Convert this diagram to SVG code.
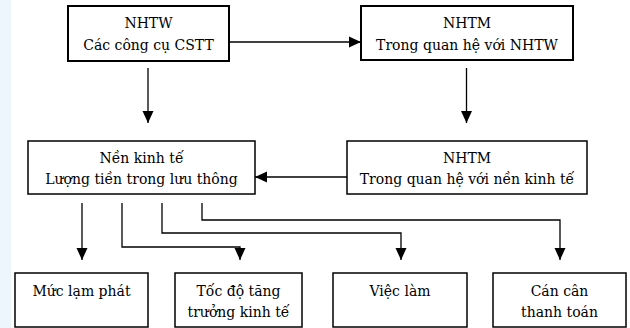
<svg xmlns="http://www.w3.org/2000/svg" width="630" height="328" viewBox="0 0 630 328">
<style>
.box{fill:#fff;stroke:#000;stroke-width:1.5}
.thick{stroke-width:2}
.t{font-family:"DejaVu Serif",serif;font-size:14px;fill:#000;text-anchor:middle}
.c{fill:none;stroke:#000;stroke-width:1.3}
</style>
<defs>
<marker id="ah" markerWidth="12" markerHeight="12" refX="12" refY="6" orient="auto" markerUnits="userSpaceOnUse">
<path d="M0,0.5 L12,6 L0,11.5 Z" fill="#000"/>
</marker>
</defs>
<rect x="0" y="0" width="630" height="328" fill="#fff"/>
<rect x="0" y="0" width="11" height="328" fill="#eef6fd"/>
<g id="nhtw">
<rect class="box thick" x="68" y="6" width="161" height="55"/>
<text class="t" x="148.5" y="28">NHTW</text>
<text class="t" x="148.5" y="50">Các công cụ CSTT</text>
</g>
<g id="nhtm1">
<rect class="box thick" x="361" y="6" width="212" height="54"/>
<text class="t" x="467" y="28">NHTM</text>
<text class="t" x="467" y="50">Trong quan hệ với NHTW</text>
</g>
<g id="nenkinhte">
<rect class="box" x="28" y="141" width="227" height="53"/>
<text class="t" x="141.5" y="163">Nền kinh tế</text>
<text class="t" x="141.5" y="184">Lượng tiền trong lưu thông</text>
</g>
<g id="nhtm2">
<rect class="box" x="347" y="141" width="240" height="53"/>
<text class="t" x="467" y="163">NHTM</text>
<text class="t" x="467" y="184">Trong quan hệ với nền kinh tế</text>
</g>
<g id="lamphat">
<rect class="box" x="15" y="273" width="133" height="54"/>
<text class="t" x="81.5" y="296">Mức lạm phát</text>
</g>
<g id="tangtruong">
<rect class="box" x="175" y="273" width="127" height="54"/>
<text class="t" x="238.5" y="296">Tốc độ tăng</text>
<text class="t" x="238.5" y="317">trưởng kinh tế</text>
</g>
<g id="vieclam">
<rect class="box" x="333" y="273" width="134" height="54"/>
<text class="t" x="400" y="296">Việc làm</text>
</g>
<g id="cancan">
<rect class="box" x="493" y="273" width="133" height="54"/>
<text class="t" x="559.5" y="296">Cán cân</text>
<text class="t" x="559.5" y="317">thanh toán</text>
</g>
<g id="connectors">
<path class="c" d="M229,42 H361" marker-end="url(#ah)"/>
<path class="c" d="M148,68 V123" marker-end="url(#ah)"/>
<path class="c" d="M466.5,68 V123" marker-end="url(#ah)"/>
<path class="c" d="M347,177 H255" marker-end="url(#ah)"/>
<path class="c" d="M82,203 V260" marker-end="url(#ah)"/>
<path class="c" d="M122,203 V247 H240 V260" marker-end="url(#ah)"/>
<path class="c" d="M162,203 V233 H401 V260" marker-end="url(#ah)"/>
<path class="c" d="M202,203 V220 H560 V260" marker-end="url(#ah)"/>
</g>
</svg>
